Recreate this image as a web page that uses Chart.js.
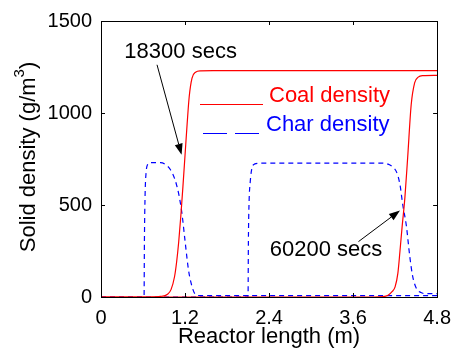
<!DOCTYPE html>
<html>
<head>
<meta charset="utf-8">
<script src="https://cdn.jsdelivr.net/npm/chart.js@4.4.1/dist/chart.umd.min.js"></script>
<style>
    html, body { margin: 0; padding: 0; background: #fff; }
    #wrap { width: 460px; height: 351px; }
</style>
</head>
<body>
<div id="wrap"><canvas id="densityChart" width="460" height="351"></canvas></div>
<script>
// values
const coal18300X = [0, 0.7, 0.85, 0.95, 1.0, 1.05, 1.08, 1.11, 1.14, 1.17, 1.2, 1.23, 1.26, 1.3, 1.35, 1.42, 1.6, 4.8];
const coal18300Y = [0, 0, 3, 15, 40, 110, 190, 300, 440, 600, 770, 940, 1090, 1190, 1222, 1229, 1230, 1230];

const coal60200X = [0, 3.9, 4.03, 4.1, 4.16, 4.2, 4.24, 4.27, 4.3, 4.34, 4.38, 4.43, 4.48, 4.53, 4.6, 4.8];
const coal60200Y = [0, 0, 2, 10, 30, 55, 130, 250, 380, 540, 760, 1045, 1165, 1195, 1203, 1205];

const char18300X = [0, 0.615, 0.62, 0.63, 0.645, 0.665, 0.7, 0.85, 0.92, 0.99, 1.05, 1.11, 1.155, 1.2, 1.25, 1.3, 1.34, 1.4, 4.8];
const char18300Y = [0, 0, 300, 560, 680, 720, 730, 730, 720, 693, 645, 560, 457, 306, 146, 57, 18, 8, 8];

const char60200X = [0, 2.1, 2.105, 2.115, 2.13, 2.15, 2.19, 2.3, 4.0, 4.1, 4.17, 4.22, 4.27, 4.31, 4.36, 4.41, 4.45, 4.5, 4.57, 4.65, 4.8];
const char60200Y = [0, 0, 300, 520, 620, 690, 722, 728, 728, 722, 705, 680, 610, 500, 390, 220, 115, 50, 24, 18, 18];

const xTicks = [0, 1.2, 2.4, 3.6, 4.8];
const yTicks = [0, 500, 1000, 1500];

const legendLabels = ['Coal density', 'Char density'];
const legendColors = ['#ff0000', '#0000ff'];

// annotation text + arrow (tail -> head) in data units
const noteTexts = ['18300 secs', '60200 secs'];
const noteTextAt = [[1.137, 1331], [3.214, 257]];
const noteTails = [[0.80, 1262], [3.677, 301]];
const noteHeads = [[1.151, 773], [4.27, 470]];

const FONT = '"Liberation Sans", Arial, Helvetica, sans-serif';

function toPoints(xs, ys) {
    return xs.map((x, i) => ({ x: x, y: ys[i] }));
}

function lineSet(label, xs, ys, color, dashed) {
    return {
        label: label,
        data: toPoints(xs, ys),
        borderColor: color,
        backgroundColor: color,
        borderWidth: 1.2,
        borderDash: dashed ? [5, 4] : [],
        pointRadius: 0,
        fill: false,
        cubicInterpolationMode: 'monotone',
        clip: 3
    };
}

function drawArrow(ctx, x1, y1, x2, y2) {
    const ang = Math.atan2(y2 - y1, x2 - x1);
    const len = 11, half = 4;
    ctx.beginPath();
    ctx.moveTo(x1, y1);
    ctx.lineTo(x2 - Math.cos(ang) * len, y2 - Math.sin(ang) * len);
    ctx.stroke();
    ctx.beginPath();
    ctx.moveTo(x2, y2);
    ctx.lineTo(x2 - Math.cos(ang) * len - Math.sin(ang) * half, y2 - Math.sin(ang) * len + Math.cos(ang) * half);
    ctx.lineTo(x2 - Math.cos(ang) * len + Math.sin(ang) * half, y2 - Math.sin(ang) * len - Math.cos(ang) * half);
    ctx.closePath();
    ctx.fill();
}

const decorations = {
    id: 'decorations',
    afterDraw(c) {
        const ctx = c.ctx;
        const a = c.chartArea;
        const xs = c.scales.x, ys = c.scales.y;
        ctx.save();

        // box
        ctx.strokeStyle = '#000';
        ctx.lineWidth = 1;
        ctx.setLineDash([]);
        ctx.strokeRect(Math.round(a.left) + 0.5, Math.round(a.top) + 0.5,
            Math.round(a.right - a.left), Math.round(a.bottom - a.top));

        // inward ticks on all four sides
        const tl = 4;
        ctx.beginPath();
        xTicks.forEach(v => {
            const px = Math.round(xs.getPixelForValue(v)) + 0.5;
            ctx.moveTo(px, a.bottom); ctx.lineTo(px, a.bottom - tl);
            ctx.moveTo(px, a.top); ctx.lineTo(px, a.top + tl);
        });
        yTicks.forEach(v => {
            const py = Math.round(ys.getPixelForValue(v)) + 0.5;
            ctx.moveTo(a.left, py); ctx.lineTo(a.left + tl, py);
            ctx.moveTo(a.right, py); ctx.lineTo(a.right - tl, py);
        });
        ctx.stroke();

        // legend inside the axes
        ctx.font = '22px ' + FONT;
        ctx.textBaseline = 'middle';
        ctx.textAlign = 'left';
        ctx.lineWidth = 1.2;
        ctx.strokeStyle = legendColors[0];
        ctx.beginPath(); ctx.moveTo(200, 104.5); ctx.lineTo(263, 104.5); ctx.stroke();
        ctx.fillStyle = legendColors[0];
        ctx.fillText(legendLabels[0], 269, 96);
        ctx.strokeStyle = legendColors[1];
        ctx.setLineDash([24, 8]);
        ctx.beginPath(); ctx.moveTo(203, 133.5); ctx.lineTo(260, 133.5); ctx.stroke();
        ctx.setLineDash([]);
        ctx.fillStyle = legendColors[1];
        ctx.fillText(legendLabels[1], 266, 125);

        // annotations
        ctx.fillStyle = '#000';
        ctx.strokeStyle = '#000';
        ctx.lineWidth = 1;
        ctx.textAlign = 'center';
        noteTexts.forEach((t, i) => {
            ctx.fillText(t, xs.getPixelForValue(noteTextAt[i][0]), ys.getPixelForValue(noteTextAt[i][1]));
            drawArrow(ctx,
                xs.getPixelForValue(noteTails[i][0]), ys.getPixelForValue(noteTails[i][1]),
                xs.getPixelForValue(noteHeads[i][0]), ys.getPixelForValue(noteHeads[i][1]));
        });

        // axis titles
        ctx.fillText('Reactor length (m)', (a.left + a.right) / 2, 337);

        ctx.translate(29, 157);
        ctx.rotate(-Math.PI / 2);
        const main = 'Solid density (g/m';
        ctx.font = '22px ' + FONT;
        const w1 = ctx.measureText(main).width;
        ctx.font = '15px ' + FONT;
        const w2 = ctx.measureText('3').width;
        ctx.font = '22px ' + FONT;
        const w3 = ctx.measureText(')').width;
        let x0 = -(w1 + w2 + w3) / 2;
        ctx.textAlign = 'left';
        ctx.fillText(main, x0, 0);
        ctx.font = '15px ' + FONT;
        ctx.fillText('3', x0 + w1, -9);
        ctx.font = '22px ' + FONT;
        ctx.fillText(')', x0 + w1 + w2, 0);

        ctx.restore();
    }
};

const chart = new Chart(document.getElementById('densityChart').getContext('2d'), {
    type: 'line',
    data: {
        datasets: [
            lineSet('Coal density', coal18300X, coal18300Y, '#ff0000', false),
            lineSet('Coal density', coal60200X, coal60200Y, '#ff0000', false),
            lineSet('Char density', char18300X, char18300Y, '#0000ff', true),
            lineSet('Char density', char60200X, char60200Y, '#0000ff', true)
        ]
    },
    options: {
        responsive: false,
        animation: false,
        events: [],
        layout: { padding: { left: 0, right: 17, top: 15, bottom: 0 } },
        plugins: {
            legend: { display: false },
            tooltip: { enabled: false }
        },
        scales: {
            x: {
                type: 'linear',
                min: 0,
                max: 4.8,
                afterBuildTicks: s => { s.ticks = xTicks.map(v => ({ value: v })); },
                afterFit: s => { s.height = 54; },
                grid: { display: false, drawTicks: false },
                border: { display: false },
                ticks: {
                    color: '#000',
                    padding: 9,
                    maxRotation: 0,
                    autoSkip: false,
                    font: { family: FONT, size: 20 },
                    callback: v => String(v)
                }
            },
            y: {
                type: 'linear',
                min: 0,
                max: 1500,
                afterBuildTicks: s => { s.ticks = yTicks.map(v => ({ value: v })); },
                afterFit: s => { s.width = 101; },
                grid: { display: false, drawTicks: false },
                border: { display: false },
                ticks: {
                    color: '#000',
                    padding: 9,
                    autoSkip: false,
                    font: { family: FONT, size: 20 },
                    callback: v => String(v)
                }
            }
        }
    },
    plugins: [decorations]
});
</script>
</body>
</html>
